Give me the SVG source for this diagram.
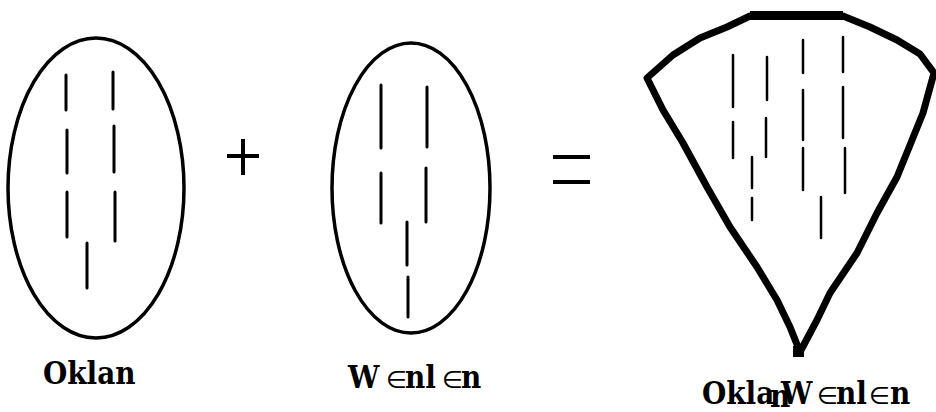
<svg xmlns="http://www.w3.org/2000/svg" width="936" height="412" viewBox="0 0 936 412">
<style>
.outline{fill:none;stroke:#000;stroke-width:3.5}
.dash{stroke:#000;stroke-width:3;stroke-linecap:round}
.thin{stroke:#000;stroke-width:2.5;stroke-linecap:round}
.op{stroke:#000;stroke-width:4}
.lbl{font-family:"DejaVu Serif Condensed","DejaVu Serif",serif;font-weight:bold;font-size:31px;fill:#000}
.sym{font-family:"DejaVu Sans",sans-serif;font-weight:normal;font-size:24px;fill:#000}
</style>
<rect width="936" height="412" fill="#fff"/>
<g id="node-oklan">
<ellipse class="outline" cx="96" cy="188" rx="88" ry="150"/>
<line class="dash" x1="66" y1="75" x2="66" y2="110"/>
<line class="dash" x1="67" y1="130" x2="67" y2="173"/>
<line class="dash" x1="67" y1="192" x2="67" y2="237"/>
<line class="dash" x1="113" y1="72" x2="113" y2="109"/>
<line class="dash" x1="114" y1="126" x2="114" y2="172"/>
<line class="dash" x1="115" y1="192" x2="115" y2="241"/>
<line class="dash" x1="87" y1="243" x2="87" y2="288"/>
<text class="lbl" x="43" y="384">Oklan</text>
</g>
<g id="node-wenlen">
<ellipse class="outline" cx="411" cy="188" rx="79" ry="145"/>
<line class="dash" x1="381" y1="85" x2="381" y2="148"/>
<line class="dash" x1="381" y1="173" x2="381" y2="223"/>
<line class="dash" x1="427" y1="87" x2="427" y2="147"/>
<line class="dash" x1="426" y1="168" x2="426" y2="222"/>
<line class="dash" x1="407" y1="222" x2="407" y2="265"/>
<line class="dash" x1="408" y1="277" x2="408" y2="317"/>
<text class="lbl" y="388"><tspan x="348">W</tspan><tspan class="sym" x="386">∈</tspan><tspan x="405">nl</tspan><tspan class="sym" x="442">∈</tspan><tspan x="461">n</tspan></text>
</g>
<g id="operators">
<line class="op" x1="227" y1="156" x2="259" y2="156"/>
<line class="op" x1="243" y1="139" x2="243" y2="175"/>
<line class="op" x1="553" y1="157" x2="590" y2="157"/>
<line class="op" x1="553" y1="182" x2="590" y2="182"/>
</g>
<g id="node-combined">
<path fill="none" stroke="#000" stroke-width="7" stroke-linejoin="round" d="M750,16 L843,16 L870,27 L897,40 L920,54 L934,73 L923,113 L908,150 L897,177 L877,213 L857,253 L830,293 L817,320 L800,352 L790,327 L777,300 L757,267 L730,227 L707,187 L683,143 L663,110 L647,78 L673,55 L700,38 L727,27 Z"/>
<rect x="750" y="11" width="93" height="9" fill="#000"/>
<rect x="793" y="346" width="11" height="11" fill="#000"/>
<line class="thin" x1="733" y1="55" x2="733" y2="107"/>
<line class="thin" x1="733" y1="122" x2="733" y2="158"/>
<line class="thin" x1="767" y1="57" x2="767" y2="100"/>
<line class="thin" x1="766" y1="118" x2="766" y2="157"/>
<line class="thin" x1="752" y1="157" x2="752" y2="188"/>
<line class="thin" x1="752" y1="198" x2="752" y2="220"/>
<line class="thin" x1="803" y1="40" x2="803" y2="73"/>
<line class="thin" x1="803" y1="90" x2="803" y2="140"/>
<line class="thin" x1="803" y1="148" x2="803" y2="190"/>
<line class="thin" x1="843" y1="37" x2="843" y2="72"/>
<line class="thin" x1="843" y1="87" x2="843" y2="138"/>
<line class="thin" x1="845" y1="148" x2="845" y2="193"/>
<line class="thin" x1="821" y1="197" x2="821" y2="238"/>
<text class="lbl" y="404"><tspan x="702">Okla</tspan><tspan x="770" dy="3">n</tspan><tspan x="781" dy="-3">W</tspan><tspan class="sym" x="817">∈</tspan><tspan x="836">nl</tspan><tspan class="sym" x="869">∈</tspan><tspan x="890">n</tspan></text>
</g>
</svg>
